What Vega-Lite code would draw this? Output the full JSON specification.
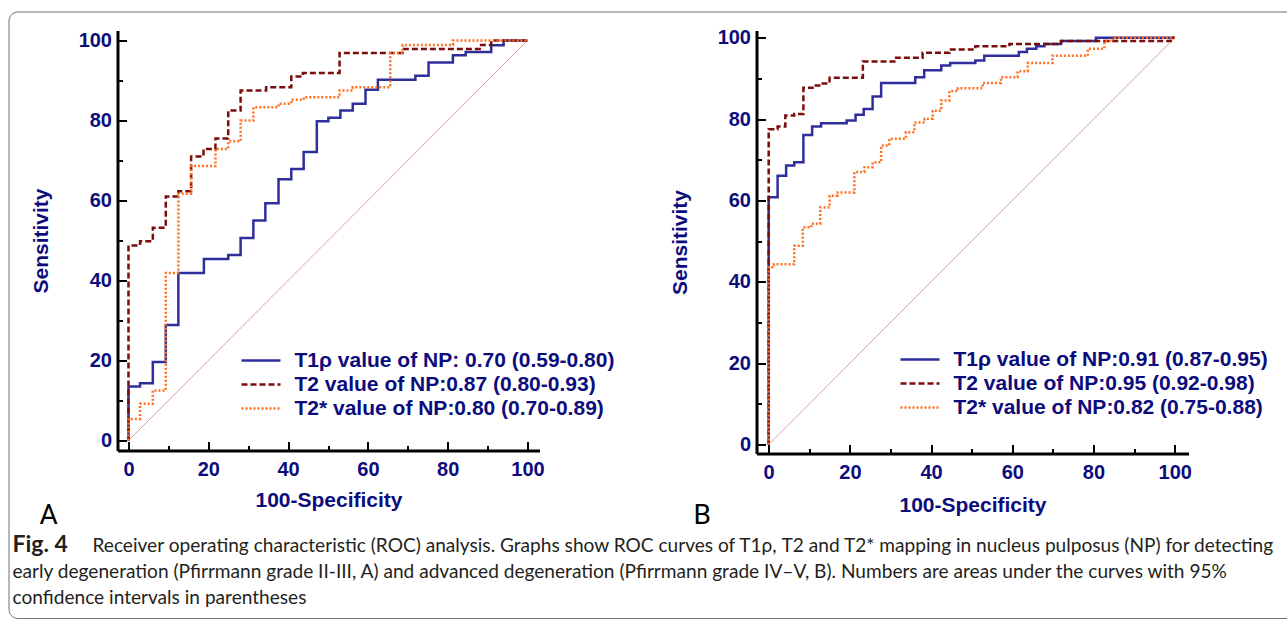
{
  "$schema": "https://vega.github.io/schema/vega-lite/v6.json",
  "autosize": {"type": "pad"},
  "padding": {"left": 7.5, "top": 10.5, "right": -12.5, "bottom": 0},
  "background": "white",
  "config": {
    "view": {"stroke": null},
    "axis": {
      "domainColor": "black", "domainWidth": 3, "tickColor": "black", "tickWidth": 2, "grid": false,
      "labelFont": "Liberation Sans", "labelFontSize": 20, "labelFontWeight": "bold", "labelColor": "#0c0c7c",
      "titleFont": "Liberation Sans", "titleFontSize": 21, "titleFontWeight": "bold", "titleColor": "#0c0c7c",
      "labelFlush": false, "labelOverlap": false, "labelBound": false
    },
    "legend": {
      "title": null, "orient": "none", "symbolType": "M-3,0H3", "symbolSize": 169, "symbolStrokeWidth": 2.5,
      "symbolOffset": 9, "labelFont": "Liberation Sans", "labelFontSize": 21, "labelFontWeight": "bold", "labelColor": "#0c0c7c",
      "labelOffset": 23, "rowPadding": 2, "padding": 0, "labelLimit": 0
    }
  },
  "datasets": {
    "diag": [{"fpr": 0, "tpr": 0}, {"fpr": 100, "tpr": 100}],
    "rocA": [
      {"series": "T1ρ value of NP: 0.70 (0.59-0.80)", "fpr": 0, "tpr": 0},
      {"series": "T1ρ value of NP: 0.70 (0.59-0.80)", "fpr": 0, "tpr": 13.5},
      {"series": "T1ρ value of NP: 0.70 (0.59-0.80)", "fpr": 2.9, "tpr": 14.3},
      {"series": "T1ρ value of NP: 0.70 (0.59-0.80)", "fpr": 6.1, "tpr": 19.6},
      {"series": "T1ρ value of NP: 0.70 (0.59-0.80)", "fpr": 9.35, "tpr": 28.9},
      {"series": "T1ρ value of NP: 0.70 (0.59-0.80)", "fpr": 12.5, "tpr": 41.9},
      {"series": "T1ρ value of NP: 0.70 (0.59-0.80)", "fpr": 18.9, "tpr": 45.4},
      {"series": "T1ρ value of NP: 0.70 (0.59-0.80)", "fpr": 25, "tpr": 46.4},
      {"series": "T1ρ value of NP: 0.70 (0.59-0.80)", "fpr": 28.1, "tpr": 50.6},
      {"series": "T1ρ value of NP: 0.70 (0.59-0.80)", "fpr": 31.3, "tpr": 55},
      {"series": "T1ρ value of NP: 0.70 (0.59-0.80)", "fpr": 34.3, "tpr": 59.3},
      {"series": "T1ρ value of NP: 0.70 (0.59-0.80)", "fpr": 37.6, "tpr": 65.3},
      {"series": "T1ρ value of NP: 0.70 (0.59-0.80)", "fpr": 40.8, "tpr": 67.9},
      {"series": "T1ρ value of NP: 0.70 (0.59-0.80)", "fpr": 43.9, "tpr": 72.1},
      {"series": "T1ρ value of NP: 0.70 (0.59-0.80)", "fpr": 47.2, "tpr": 79.8},
      {"series": "T1ρ value of NP: 0.70 (0.59-0.80)", "fpr": 50.1, "tpr": 80.7},
      {"series": "T1ρ value of NP: 0.70 (0.59-0.80)", "fpr": 53.1, "tpr": 82.5},
      {"series": "T1ρ value of NP: 0.70 (0.59-0.80)", "fpr": 56.2, "tpr": 84.2},
      {"series": "T1ρ value of NP: 0.70 (0.59-0.80)", "fpr": 59.4, "tpr": 87.7},
      {"series": "T1ρ value of NP: 0.70 (0.59-0.80)", "fpr": 62.5, "tpr": 90.2},
      {"series": "T1ρ value of NP: 0.70 (0.59-0.80)", "fpr": 71.9, "tpr": 91.2},
      {"series": "T1ρ value of NP: 0.70 (0.59-0.80)", "fpr": 75.2, "tpr": 94.5},
      {"series": "T1ρ value of NP: 0.70 (0.59-0.80)", "fpr": 81.3, "tpr": 96.3},
      {"series": "T1ρ value of NP: 0.70 (0.59-0.80)", "fpr": 84.5, "tpr": 97.1},
      {"series": "T1ρ value of NP: 0.70 (0.59-0.80)", "fpr": 90.9, "tpr": 98.8},
      {"series": "T1ρ value of NP: 0.70 (0.59-0.80)", "fpr": 94, "tpr": 100},
      {"series": "T1ρ value of NP: 0.70 (0.59-0.80)", "fpr": 100, "tpr": 100},
      {"series": "T2 value of NP:0.87 (0.80-0.93)", "fpr": 0, "tpr": 0},
      {"series": "T2 value of NP:0.87 (0.80-0.93)", "fpr": 0, "tpr": 48.75},
      {"series": "T2 value of NP:0.87 (0.80-0.93)", "fpr": 2.9, "tpr": 49.8},
      {"series": "T2 value of NP:0.87 (0.80-0.93)", "fpr": 6.1, "tpr": 53.2},
      {"series": "T2 value of NP:0.87 (0.80-0.93)", "fpr": 9.35, "tpr": 61},
      {"series": "T2 value of NP:0.87 (0.80-0.93)", "fpr": 12.5, "tpr": 62.3},
      {"series": "T2 value of NP:0.87 (0.80-0.93)", "fpr": 15.7, "tpr": 71},
      {"series": "T2 value of NP:0.87 (0.80-0.93)", "fpr": 18.8, "tpr": 72.9},
      {"series": "T2 value of NP:0.87 (0.80-0.93)", "fpr": 21.8, "tpr": 75.5},
      {"series": "T2 value of NP:0.87 (0.80-0.93)", "fpr": 25, "tpr": 82.5},
      {"series": "T2 value of NP:0.87 (0.80-0.93)", "fpr": 28.1, "tpr": 87.5},
      {"series": "T2 value of NP:0.87 (0.80-0.93)", "fpr": 34.5, "tpr": 88.3},
      {"series": "T2 value of NP:0.87 (0.80-0.93)", "fpr": 40.8, "tpr": 91},
      {"series": "T2 value of NP:0.87 (0.80-0.93)", "fpr": 43.7, "tpr": 91.9},
      {"series": "T2 value of NP:0.87 (0.80-0.93)", "fpr": 52.9, "tpr": 96.9},
      {"series": "T2 value of NP:0.87 (0.80-0.93)", "fpr": 68.7, "tpr": 97.9},
      {"series": "T2 value of NP:0.87 (0.80-0.93)", "fpr": 88, "tpr": 98.9},
      {"series": "T2 value of NP:0.87 (0.80-0.93)", "fpr": 90.9, "tpr": 100},
      {"series": "T2 value of NP:0.87 (0.80-0.93)", "fpr": 100, "tpr": 100},
      {"series": "T2* value of NP:0.80 (0.70-0.89)", "fpr": 0, "tpr": 0},
      {"series": "T2* value of NP:0.80 (0.70-0.89)", "fpr": 0, "tpr": 5.4},
      {"series": "T2* value of NP:0.80 (0.70-0.89)", "fpr": 2.9, "tpr": 9.2},
      {"series": "T2* value of NP:0.80 (0.70-0.89)", "fpr": 6.1, "tpr": 12.5},
      {"series": "T2* value of NP:0.80 (0.70-0.89)", "fpr": 9.35, "tpr": 41.9},
      {"series": "T2* value of NP:0.80 (0.70-0.89)", "fpr": 12.5, "tpr": 61.7},
      {"series": "T2* value of NP:0.80 (0.70-0.89)", "fpr": 15.7, "tpr": 68.6},
      {"series": "T2* value of NP:0.80 (0.70-0.89)", "fpr": 21.8, "tpr": 72.9},
      {"series": "T2* value of NP:0.80 (0.70-0.89)", "fpr": 25, "tpr": 74.8},
      {"series": "T2* value of NP:0.80 (0.70-0.89)", "fpr": 28.1, "tpr": 80},
      {"series": "T2* value of NP:0.80 (0.70-0.89)", "fpr": 31.3, "tpr": 83.3},
      {"series": "T2* value of NP:0.80 (0.70-0.89)", "fpr": 37.6, "tpr": 84.2},
      {"series": "T2* value of NP:0.80 (0.70-0.89)", "fpr": 40.8, "tpr": 85.2},
      {"series": "T2* value of NP:0.80 (0.70-0.89)", "fpr": 43.9, "tpr": 85.8},
      {"series": "T2* value of NP:0.80 (0.70-0.89)", "fpr": 52.9, "tpr": 87.5},
      {"series": "T2* value of NP:0.80 (0.70-0.89)", "fpr": 56.2, "tpr": 88.3},
      {"series": "T2* value of NP:0.80 (0.70-0.89)", "fpr": 65.6, "tpr": 96.9},
      {"series": "T2* value of NP:0.80 (0.70-0.89)", "fpr": 68.7, "tpr": 98.9},
      {"series": "T2* value of NP:0.80 (0.70-0.89)", "fpr": 81.3, "tpr": 100},
      {"series": "T2* value of NP:0.80 (0.70-0.89)", "fpr": 100, "tpr": 100}
    ],
    "rocB": [
      {"series": "T1ρ value of NP:0.91 (0.87-0.95)", "fpr": 0, "tpr": 0},
      {"series": "T1ρ value of NP:0.91 (0.87-0.95)", "fpr": 0, "tpr": 60.8},
      {"series": "T1ρ value of NP:0.91 (0.87-0.95)", "fpr": 2.2, "tpr": 66.1},
      {"series": "T1ρ value of NP:0.91 (0.87-0.95)", "fpr": 4.3, "tpr": 68.6},
      {"series": "T1ρ value of NP:0.91 (0.87-0.95)", "fpr": 6.3, "tpr": 69.4},
      {"series": "T1ρ value of NP:0.91 (0.87-0.95)", "fpr": 8.55, "tpr": 76.1},
      {"series": "T1ρ value of NP:0.91 (0.87-0.95)", "fpr": 10.7, "tpr": 78.2},
      {"series": "T1ρ value of NP:0.91 (0.87-0.95)", "fpr": 12.9, "tpr": 79},
      {"series": "T1ρ value of NP:0.91 (0.87-0.95)", "fpr": 19.2, "tpr": 79.7},
      {"series": "T1ρ value of NP:0.91 (0.87-0.95)", "fpr": 21.4, "tpr": 81.1},
      {"series": "T1ρ value of NP:0.91 (0.87-0.95)", "fpr": 23.4, "tpr": 82.5},
      {"series": "T1ρ value of NP:0.91 (0.87-0.95)", "fpr": 25.6, "tpr": 85.6},
      {"series": "T1ρ value of NP:0.91 (0.87-0.95)", "fpr": 27.7, "tpr": 88.9},
      {"series": "T1ρ value of NP:0.91 (0.87-0.95)", "fpr": 36.1, "tpr": 90.3},
      {"series": "T1ρ value of NP:0.91 (0.87-0.95)", "fpr": 38.3, "tpr": 92},
      {"series": "T1ρ value of NP:0.91 (0.87-0.95)", "fpr": 42.5, "tpr": 93.2},
      {"series": "T1ρ value of NP:0.91 (0.87-0.95)", "fpr": 44.7, "tpr": 93.8},
      {"series": "T1ρ value of NP:0.91 (0.87-0.95)", "fpr": 50.9, "tpr": 94.4},
      {"series": "T1ρ value of NP:0.91 (0.87-0.95)", "fpr": 53.1, "tpr": 95.6},
      {"series": "T1ρ value of NP:0.91 (0.87-0.95)", "fpr": 61.6, "tpr": 96.5},
      {"series": "T1ρ value of NP:0.91 (0.87-0.95)", "fpr": 63.6, "tpr": 97.3},
      {"series": "T1ρ value of NP:0.91 (0.87-0.95)", "fpr": 65.9, "tpr": 97.9},
      {"series": "T1ρ value of NP:0.91 (0.87-0.95)", "fpr": 67.9, "tpr": 98.5},
      {"series": "T1ρ value of NP:0.91 (0.87-0.95)", "fpr": 72, "tpr": 99.2},
      {"series": "T1ρ value of NP:0.91 (0.87-0.95)", "fpr": 80.6, "tpr": 100},
      {"series": "T1ρ value of NP:0.91 (0.87-0.95)", "fpr": 100, "tpr": 100},
      {"series": "T2 value of NP:0.95 (0.92-0.98)", "fpr": 0, "tpr": 0},
      {"series": "T2 value of NP:0.95 (0.92-0.98)", "fpr": 0, "tpr": 77.5},
      {"series": "T2 value of NP:0.95 (0.92-0.98)", "fpr": 2.2, "tpr": 78.2},
      {"series": "T2 value of NP:0.95 (0.92-0.98)", "fpr": 4.1, "tpr": 80.9},
      {"series": "T2 value of NP:0.95 (0.92-0.98)", "fpr": 6.3, "tpr": 81.3},
      {"series": "T2 value of NP:0.95 (0.92-0.98)", "fpr": 8.55, "tpr": 87.7},
      {"series": "T2 value of NP:0.95 (0.92-0.98)", "fpr": 10.8, "tpr": 88.3},
      {"series": "T2 value of NP:0.95 (0.92-0.98)", "fpr": 12.9, "tpr": 88.8},
      {"series": "T2 value of NP:0.95 (0.92-0.98)", "fpr": 15, "tpr": 90.2},
      {"series": "T2 value of NP:0.95 (0.92-0.98)", "fpr": 23.2, "tpr": 94.2},
      {"series": "T2 value of NP:0.95 (0.92-0.98)", "fpr": 31.4, "tpr": 95.1},
      {"series": "T2 value of NP:0.95 (0.92-0.98)", "fpr": 37.9, "tpr": 96.3},
      {"series": "T2 value of NP:0.95 (0.92-0.98)", "fpr": 44.5, "tpr": 97.1},
      {"series": "T2 value of NP:0.95 (0.92-0.98)", "fpr": 50.9, "tpr": 97.9},
      {"series": "T2 value of NP:0.95 (0.92-0.98)", "fpr": 59.3, "tpr": 98.5},
      {"series": "T2 value of NP:0.95 (0.92-0.98)", "fpr": 72, "tpr": 99.2},
      {"series": "T2 value of NP:0.95 (0.92-0.98)", "fpr": 99, "tpr": 100},
      {"series": "T2 value of NP:0.95 (0.92-0.98)", "fpr": 100, "tpr": 100},
      {"series": "T2* value of NP:0.82 (0.75-0.88)", "fpr": 0, "tpr": 0},
      {"series": "T2* value of NP:0.82 (0.75-0.88)", "fpr": 0, "tpr": 43.6},
      {"series": "T2* value of NP:0.82 (0.75-0.88)", "fpr": 1.3, "tpr": 44.3},
      {"series": "T2* value of NP:0.82 (0.75-0.88)", "fpr": 6.3, "tpr": 48.9},
      {"series": "T2* value of NP:0.82 (0.75-0.88)", "fpr": 8.4, "tpr": 53.4},
      {"series": "T2* value of NP:0.82 (0.75-0.88)", "fpr": 10.5, "tpr": 54.3},
      {"series": "T2* value of NP:0.82 (0.75-0.88)", "fpr": 12.7, "tpr": 58.3},
      {"series": "T2* value of NP:0.82 (0.75-0.88)", "fpr": 15, "tpr": 61.2},
      {"series": "T2* value of NP:0.82 (0.75-0.88)", "fpr": 17, "tpr": 62},
      {"series": "T2* value of NP:0.82 (0.75-0.88)", "fpr": 21.1, "tpr": 67},
      {"series": "T2* value of NP:0.82 (0.75-0.88)", "fpr": 23.6, "tpr": 68.2},
      {"series": "T2* value of NP:0.82 (0.75-0.88)", "fpr": 25.6, "tpr": 69.4},
      {"series": "T2* value of NP:0.82 (0.75-0.88)", "fpr": 27.7, "tpr": 73.5},
      {"series": "T2* value of NP:0.82 (0.75-0.88)", "fpr": 29.7, "tpr": 75.2},
      {"series": "T2* value of NP:0.82 (0.75-0.88)", "fpr": 33.8, "tpr": 76.8},
      {"series": "T2* value of NP:0.82 (0.75-0.88)", "fpr": 35.9, "tpr": 79.2},
      {"series": "T2* value of NP:0.82 (0.75-0.88)", "fpr": 38.4, "tpr": 80.1},
      {"series": "T2* value of NP:0.82 (0.75-0.88)", "fpr": 40.4, "tpr": 82.1},
      {"series": "T2* value of NP:0.82 (0.75-0.88)", "fpr": 42.5, "tpr": 84.6},
      {"series": "T2* value of NP:0.82 (0.75-0.88)", "fpr": 44.5, "tpr": 86.9},
      {"series": "T2* value of NP:0.82 (0.75-0.88)", "fpr": 46.6, "tpr": 87.6},
      {"series": "T2* value of NP:0.82 (0.75-0.88)", "fpr": 52.7, "tpr": 88.9},
      {"series": "T2* value of NP:0.82 (0.75-0.88)", "fpr": 57.2, "tpr": 90.3},
      {"series": "T2* value of NP:0.82 (0.75-0.88)", "fpr": 61.3, "tpr": 91.8},
      {"series": "T2* value of NP:0.82 (0.75-0.88)", "fpr": 63.8, "tpr": 93.8},
      {"series": "T2* value of NP:0.82 (0.75-0.88)", "fpr": 69.9, "tpr": 95.6},
      {"series": "T2* value of NP:0.82 (0.75-0.88)", "fpr": 78.6, "tpr": 97.3},
      {"series": "T2* value of NP:0.82 (0.75-0.88)", "fpr": 82.7, "tpr": 99.2},
      {"series": "T2* value of NP:0.82 (0.75-0.88)", "fpr": 84.7, "tpr": 100},
      {"series": "T2* value of NP:0.82 (0.75-0.88)", "fpr": 100, "tpr": 100}
    ],
    "caption": [
      {"line": 1, "part": "bold", "text": "Fig. 4"},
      {"line": 1, "part": "lead", "text": "Receiver operating characteristic (ROC) analysis. Graphs show ROC curves of T1ρ, T2 and T2* mapping in nucleus pulposus (NP) for detecting"},
      {"line": 2, "part": "body", "text": "early degeneration (Pfirrmann grade II-III, A) and advanced degeneration (Pfirrmann grade IV–V, B). Numbers are areas under the curves with 95%"},
      {"line": 3, "part": "body", "text": "confidence intervals in parentheses"}
    ]
  },
  "vconcat": [
    {
      "vconcat": [
        {
          "width": 1290, "height": 606.5,
          "view": {"stroke": "#707070", "strokeWidth": 1, "cornerRadius": 9, "fill": null},
          "data": {"name": "caption"},
          "encoding": {
            "x": {"datum": 0, "type": "quantitative", "scale": {"domain": [0, 1]}, "axis": null},
            "y": {"field": "line", "type": "quantitative", "scale": {"domain": [-20.08, 3.565], "reverse": true, "nice": false, "zero": false}, "axis": null},
            "text": {"field": "text"}
          },
          "layer": [
            {"transform": [{"filter": "datum.part === 'bold'"}],
             "mark": {"type": "text", "align": "left", "baseline": "alphabetic", "font": "Lato", "fontSize": 23, "fontWeight": "bold", "color": "#231f20", "dx": 4}},
            {"transform": [{"filter": "datum.part === 'lead'"}],
             "mark": {"type": "text", "align": "left", "baseline": "alphabetic", "font": "Lato", "fontSize": 19.1, "fontWeight": "normal", "color": "#231f20", "dx": 84}},
            {"transform": [{"filter": "datum.part === 'body'"}],
             "mark": {"type": "text", "align": "left", "baseline": "alphabetic", "font": "Lato", "fontSize": 19.1, "fontWeight": "normal", "color": "#231f20", "dx": 4}}
          ]
        }
      ],
      "bounds": "flush"
    },
    {
      "hconcat": [
        {
          "width": 1, "height": 1,
          "data": {"values": [{"t": ""}]},
          "mark": {"type": "text"},
          "encoding": {"text": {"field": "t"}}
        },
        {
          "hconcat": [
            {
              "width": 422, "height": 420,
              "title": {"text": "A", "orient": "bottom", "anchor": "start", "frame": "group", "dx": -78, "offset": -9, "font": "Roboto", "fontSize": 28, "fontWeight": "normal", "color": "black"},
              "layer": [
                {
                  "data": {"name": "diag"},
                  "mark": {"type": "line", "color": "#d7a0a0", "strokeWidth": 1},
                  "encoding": {
                    "x": {"field": "fpr", "type": "quantitative", "scale": {"domain": [-2.75, 103], "nice": false, "zero": false},
                      "axis": {"title": "100-Specificity", "values": [0,5,10,15,20,25,30,35,40,45,50,55,60,65,70,75,80,85,90,95,100],
                        "labelExpr": "datum.value % 20 === 0 ? datum.label : ''",
                        "tickSize": {"condition": {"test": "datum.value % 20 === 0", "value": -9}, "value": -5},
                        "labelPadding": 18, "titlePadding": 6}},
                    "y": {"field": "tpr", "type": "quantitative", "scale": {"domain": [-2.5, 102.5], "nice": false, "zero": false},
                      "axis": {"title": "Sensitivity", "values": [0,5,10,15,20,25,30,35,40,45,50,55,60,65,70,75,80,85,90,95,100],
                        "labelExpr": "datum.value % 20 === 0 ? datum.label : ''",
                        "tickSize": {"condition": {"test": "datum.value % 20 === 0", "value": -9}, "value": -5},
                        "labelPadding": 15, "titlePadding": 27}}
                  }
                },
                {
                  "data": {"name": "rocA"},
                  "mark": {"type": "line", "interpolate": "step-after", "strokeWidth": 2.5},
                  "encoding": {
                    "x": {"field": "fpr", "type": "quantitative"},
                    "y": {"field": "tpr", "type": "quantitative"},
                    "order": [{"field": "fpr", "type": "quantitative"}, {"field": "tpr", "type": "quantitative"}],
                    "color": {"field": "series", "type": "nominal",
                      "scale": {"domain": ["T1ρ value of NP: 0.70 (0.59-0.80)", "T2 value of NP:0.87 (0.80-0.93)", "T2* value of NP:0.80 (0.70-0.89)"], "range": ["#2e2e9c", "#7b0d0d", "#ff6f1f"]},
                      "legend": {"legendX": 124, "legendY": 319.5}},
                    "strokeDash": {"field": "series", "type": "nominal",
                      "scale": {"domain": ["T1ρ value of NP: 0.70 (0.59-0.80)", "T2 value of NP:0.87 (0.80-0.93)", "T2* value of NP:0.80 (0.70-0.89)"], "range": [[1, 0], [6, 3], [2, 2]]},
                      "legend": {"legendX": 124, "legendY": 319.5}}
                  }
                }
              ]
            },
            {
              "width": 432, "height": 423,
              "title": {"text": "B", "orient": "bottom", "anchor": "start", "frame": "group", "dx": -63, "offset": -14, "font": "Roboto", "fontSize": 28, "fontWeight": "normal", "color": "black"},
              "layer": [
                {
                  "data": {"name": "diag"},
                  "mark": {"type": "line", "color": "#d7a0a0", "strokeWidth": 1},
                  "encoding": {
                    "x": {"field": "fpr", "type": "quantitative", "scale": {"domain": [-3, 103.4], "nice": false, "zero": false},
                      "axis": {"title": "100-Specificity", "values": [0,5,10,15,20,25,30,35,40,45,50,55,60,65,70,75,80,85,90,95,100],
                        "labelExpr": "datum.value % 20 === 0 ? datum.label : ''",
                        "tickSize": {"condition": {"test": "datum.value % 20 === 0", "value": -9}, "value": -5},
                        "labelPadding": 18, "titlePadding": 8}},
                    "y": {"field": "tpr", "type": "quantitative", "scale": {"domain": [-2.2, 101.8], "nice": false, "zero": false},
                      "axis": {"title": "Sensitivity", "values": [0,5,10,15,20,25,30,35,40,45,50,55,60,65,70,75,80,85,90,95,100],
                        "labelExpr": "datum.value % 20 === 0 ? datum.label : ''",
                        "tickSize": {"condition": {"test": "datum.value % 20 === 0", "value": -9}, "value": -5},
                        "labelPadding": 15, "titlePadding": 27}}
                  }
                },
                {
                  "data": {"name": "rocB"},
                  "mark": {"type": "line", "interpolate": "step-after", "strokeWidth": 2.5},
                  "encoding": {
                    "x": {"field": "fpr", "type": "quantitative"},
                    "y": {"field": "tpr", "type": "quantitative"},
                    "order": [{"field": "fpr", "type": "quantitative"}, {"field": "tpr", "type": "quantitative"}],
                    "color": {"field": "series", "type": "nominal",
                      "scale": {"domain": ["T1ρ value of NP:0.91 (0.87-0.95)", "T2 value of NP:0.95 (0.92-0.98)", "T2* value of NP:0.82 (0.75-0.88)"], "range": ["#2e2e9c", "#7b0d0d", "#ff6f1f"]},
                      "legend": {"legendX": 144, "legendY": 318.5}},
                    "strokeDash": {"field": "series", "type": "nominal",
                      "scale": {"domain": ["T1ρ value of NP:0.91 (0.87-0.95)", "T2 value of NP:0.95 (0.92-0.98)", "T2* value of NP:0.82 (0.75-0.88)"], "range": [[1, 0], [6, 3], [2, 2]]},
                      "legend": {"legendX": 144, "legendY": 318.5}}
                  }
                }
              ]
            }
          ],
          "spacing": 217,
          "bounds": "flush",
          "resolve": {"scale": {"color": "independent", "strokeDash": "independent"}, "legend": {"color": "independent", "strokeDash": "independent"}}
        }
      ],
      "spacing": 108,
      "bounds": "flush"
    }
  ],
  "spacing": 19,
  "bounds": "flush"
}
